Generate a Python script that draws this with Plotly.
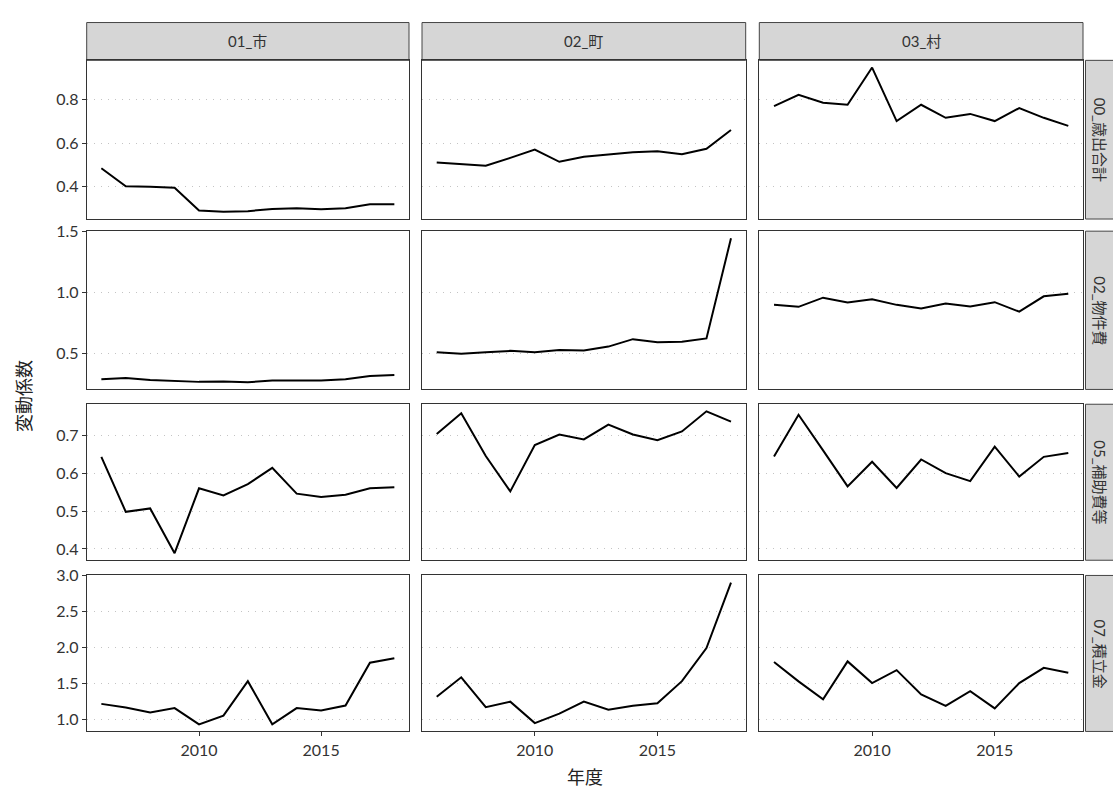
import plotly.graph_objects as go

# ---- data ----
years = list(range(2006, 2019))
col_labels = ["01_市", "02_町", "03_村"]
row_labels = ["00_歳出合計", "02_物件費", "05_補助費等", "07_積立金"]

total_city = [0.485, 0.402, 0.400, 0.396, 0.291, 0.285, 0.288, 0.298, 0.301, 0.297, 0.301, 0.320, 0.320]
total_town = [0.512, 0.506, 0.497, 0.533, 0.571, 0.515, 0.538, 0.548, 0.559, 0.563, 0.550, 0.575, 0.661]
total_village = [0.771, 0.823, 0.786, 0.777, 0.948, 0.702, 0.777, 0.717, 0.735, 0.702, 0.762, 0.717, 0.680]

goods_city = [0.291, 0.302, 0.286, 0.278, 0.270, 0.273, 0.267, 0.281, 0.281, 0.281, 0.291, 0.318, 0.326]
goods_town = [0.513, 0.500, 0.513, 0.524, 0.513, 0.532, 0.527, 0.559, 0.620, 0.594, 0.599, 0.626, 1.446]
goods_village = [0.901, 0.885, 0.960, 0.920, 0.947, 0.901, 0.872, 0.912, 0.888, 0.923, 0.845, 0.971, 0.992]

subsidy_city = [0.643, 0.498, 0.507, 0.389, 0.560, 0.541, 0.571, 0.614, 0.546, 0.537, 0.543, 0.560, 0.563]
subsidy_town = [0.703, 0.758, 0.645, 0.552, 0.674, 0.702, 0.689, 0.728, 0.702, 0.687, 0.710, 0.763, 0.736]
subsidy_village = [0.644, 0.754, 0.660, 0.565, 0.630, 0.561, 0.636, 0.600, 0.579, 0.670, 0.591, 0.643, 0.653]

reserve_city = [1.217, 1.167, 1.099, 1.158, 0.932, 1.054, 1.533, 0.932, 1.158, 1.126, 1.194, 1.790, 1.853]
reserve_town = [1.316, 1.587, 1.172, 1.248, 0.950, 1.081, 1.248, 1.135, 1.190, 1.226, 1.533, 1.993, 2.905]
reserve_village = [1.799, 1.530, 1.280, 1.808, 1.506, 1.686, 1.348, 1.190, 1.393, 1.154, 1.506, 1.718, 1.650]

grid_data = [
    [total_city, total_town, total_village],
    [goods_city, goods_town, goods_village],
    [subsidy_city, subsidy_town, subsidy_village],
    [reserve_city, reserve_town, reserve_village],
]
row_ticks = [
    [0.4, 0.6, 0.8],
    [0.5, 1.0, 1.5],
    [0.4, 0.5, 0.6, 0.7],
    [1.0, 1.5, 2.0, 2.5, 3.0],
]
x_ticks = [2010, 2015]

# ---- layout geometry (window pixels) ----
W, H = 1113, 790
col_px = [(86.7, 409.0), (422.0, 745.7), (759.3, 1083.0)]
row_px = [(51.0, 211.7), (224.0, 384.3), (399.3, 557.3), (572.7, 730.7)]
strip_top = (12.7, 51.0)
strip_right = (1085.5, 1125.0)

def px_x(v):
    return v / W

def px_y(v):
    return 1 - v / H

FONT = "Lato, 'Noto Sans CJK JP', sans-serif"
JP = "'Noto Sans CJK JP', sans-serif"
TXT = "#333333"

fig = go.Figure()
layout = dict(
    width=W, height=H,
    margin=dict(l=0, r=0, t=0, b=0),
    paper_bgcolor="white", plot_bgcolor="white",
    showlegend=False,
)

xmin, xmax = min(years), max(years)
xpad = 0.05 * (xmax - xmin)

shapes = []
annotations = []

for r in range(4):
    vals_all = [v for c in range(3) for v in grid_data[r][c]]
    lo, hi = min(vals_all), max(vals_all)
    pad = 0.05 * (hi - lo)
    yrange = [lo - pad, hi + pad]
    for c in range(3):
        idx = r * 3 + c + 1
        xa = "x" if idx == 1 else f"x{idx}"
        ya = "y" if idx == 1 else f"y{idx}"
        fig.add_trace(go.Scatter(
            x=years, y=grid_data[r][c], mode="lines",
            line=dict(color="black", width=2),
            xaxis=xa, yaxis=ya, hoverinfo="skip",
        ))
        xkey = "xaxis" if idx == 1 else f"xaxis{idx}"
        ykey = "yaxis" if idx == 1 else f"yaxis{idx}"
        bottom = (r == 3)
        left = (c == 0)
        layout[xkey] = dict(
            domain=[px_x(col_px[c][0]), px_x(col_px[c][1])],
            anchor=ya,
            range=[xmin - xpad, xmax + xpad],
            tickvals=x_ticks,
            showticklabels=bottom,
            ticks="outside" if bottom else "",
            ticklen=4, tickwidth=1, tickcolor="#333333",
            showgrid=False, zeroline=False,
            showline=True, mirror=True, linecolor="#333333", linewidth=1,
            tickfont=dict(family=FONT, size=16, color=TXT),
        )
        layout[ykey] = dict(
            domain=[px_y(row_px[r][1]), px_y(row_px[r][0])],
            anchor=xa,
            range=yrange,
            tickvals=row_ticks[r],
            ticktext=[f"{t:.1f}" for t in row_ticks[r]],
            showticklabels=left,
            ticks="outside" if left else "",
            ticklen=4, tickwidth=1, tickcolor="#333333",
            showgrid=True, gridcolor="#c4c4c4", gridwidth=1, griddash="1px,6px",
            zeroline=False,
            showline=True, mirror=True, linecolor="#333333", linewidth=1,
            tickfont=dict(family=FONT, size=16, color=TXT),
        )

# top strips
for c in range(3):
    shapes.append(dict(
        type="rect", xref="paper", yref="paper",
        x0=px_x(col_px[c][0]), x1=px_x(col_px[c][1]),
        y0=px_y(strip_top[1]), y1=px_y(strip_top[0]),
        fillcolor="#d6d6d6", line=dict(color="#444444", width=1), layer="below",
    ))
    annotations.append(dict(
        xref="paper", yref="paper",
        x=px_x((col_px[c][0] + col_px[c][1]) / 2),
        y=px_y((strip_top[0] + strip_top[1]) / 2),
        text=col_labels[c], showarrow=False,
        font=dict(family=FONT, size=15, color=TXT),
        xanchor="center", yanchor="middle",
    ))

# right strips
for r in range(4):
    shapes.append(dict(
        type="rect", xref="paper", yref="paper",
        x0=px_x(strip_right[0]), x1=px_x(strip_right[1]),
        y0=px_y(row_px[r][1]), y1=px_y(row_px[r][0]),
        fillcolor="#d6d6d6", line=dict(color="#444444", width=1), layer="below",
    ))
    annotations.append(dict(
        xref="paper", yref="paper",
        x=px_x(1100.0),
        y=px_y((row_px[r][0] + row_px[r][1]) / 2),
        text=row_labels[r], showarrow=False, textangle=90,
        font=dict(family=FONT, size=15, color=TXT),
        xanchor="center", yanchor="middle",
    ))

# axis titles
annotations.append(dict(
    xref="paper", yref="paper",
    x=px_x((col_px[0][0] + col_px[2][1]) / 2), y=px_y(776),
    text="年度", showarrow=False,
    font=dict(family=JP, size=18, color="#222222"),
    xanchor="center", yanchor="middle",
))
annotations.append(dict(
    xref="paper", yref="paper",
    x=px_x(23), y=px_y((row_px[0][0] + row_px[3][1]) / 2),
    text="変動係数", showarrow=False, textangle=-90,
    font=dict(family=JP, size=18, color="#222222"),
    xanchor="center", yanchor="middle",
))

layout["shapes"] = shapes
layout["annotations"] = annotations
fig.update_layout(**layout)
fig.write_html(
    "out.html",
    config={"displayModeBar": False},
    post_script="document.body.style.margin='0';document.body.style.overflow='hidden';",
)
